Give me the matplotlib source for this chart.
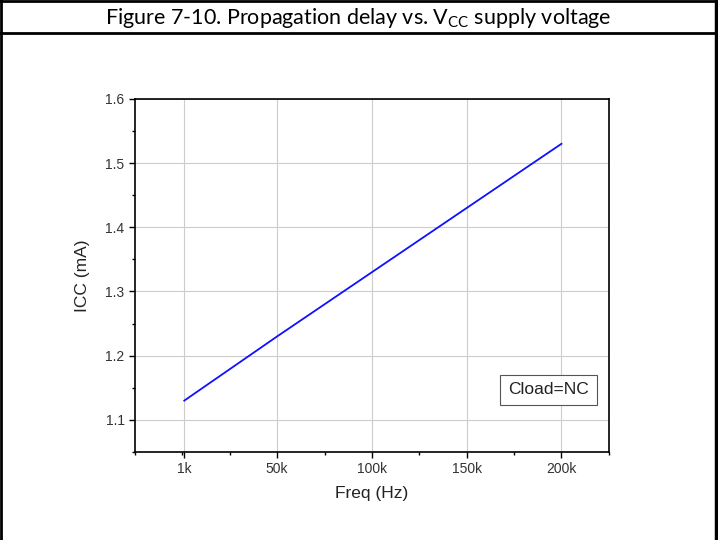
import matplotlib
matplotlib.use("Agg")
import matplotlib.pyplot as plt
from matplotlib.lines import Line2D
from matplotlib.ticker import MultipleLocator

# data
freq_k = [1, 50, 100, 150, 200]
icc_ma = [1.13, 1.23, 1.33, 1.43, 1.53]
xtick_pos = [1, 50, 100, 150, 200]
xtick_labels = ["1k", "50k", "100k", "150k", "200k"]
yticks = [1.1, 1.2, 1.3, 1.4, 1.5, 1.6]

plt.rcParams["font.family"] = ["Liberation Sans", "DejaVu Sans"]
plt.rcParams["mathtext.fontset"] = "custom"
plt.rcParams["mathtext.rm"] = "Lato"


def main():
    fig = plt.figure(figsize=(7.18, 5.40), dpi=100)
    ax = fig.add_axes([0.188, 0.163, 0.660, 0.654])

    ax.plot(freq_k, icc_ma, color="#1010ff", lw=1.3)

    ax.set_xlim(-25, 225)
    ax.set_ylim(1.05, 1.6)
    ax.set_xticks(xtick_pos)
    ax.set_xticklabels(xtick_labels)
    ax.xaxis.set_minor_locator(MultipleLocator(25))
    ax.set_yticks(yticks)
    ax.yaxis.set_minor_locator(MultipleLocator(0.05))
    ax.tick_params(which="major", direction="out", length=4, width=1,
                   labelsize=10, colors="black", labelcolor="#333333")
    ax.tick_params(which="minor", direction="out", length=2, width=1)
    ax.grid(True, which="major", color="#cccccc", lw=0.8)
    for sp in ax.spines.values():
        sp.set_linewidth(1.2)

    ax.set_xlabel("Freq (Hz)", fontsize=12.5, labelpad=7, color="#222222")
    ax.set_ylabel("ICC (mA)", fontsize=12.5, labelpad=11, color="#222222")

    ax.text(0.873, 0.176, "Cload=NC", transform=ax.transAxes, fontsize=12.5,
            ha="center", va="center", color="#222222",
            bbox=dict(boxstyle="square,pad=0.45", fc="white",
                      ec="#555555", lw=0.8))

    # table frame around the figure
    for xs, ys, w in (([0, 1], [0.999, 0.999], 2),
                      ([0, 1], [0.939, 0.939], 2),
                      ([0.001, 0.001], [0, 1], 2),
                      ([0.997, 0.997], [0, 1], 2.5)):
        fig.add_artist(Line2D(xs, ys, transform=fig.transFigure,
                              color="black", lw=w))

    fig.text(0.499, 0.966,
             "Figure 7-10. Propagation delay vs. V$_{\\mathrm{CC}}$ supply voltage",
             family="Lato", fontsize=15.5, ha="center", va="center")

    fig.savefig("out.png", dpi=100)


if __name__ == "__main__":
    main()
